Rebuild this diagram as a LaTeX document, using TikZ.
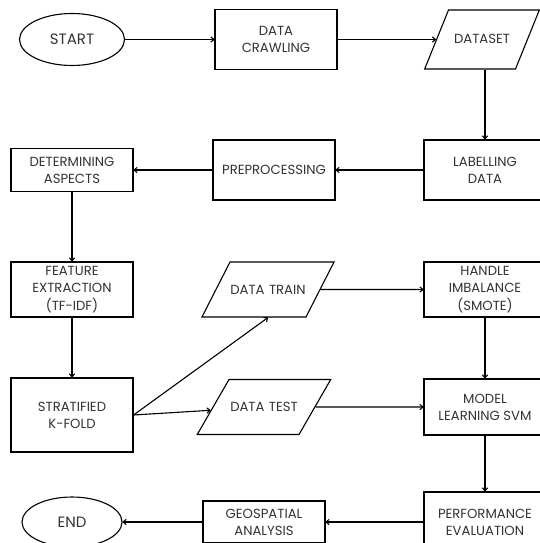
\documentclass[tikz,border=0pt]{standalone}
\usepackage{fontspec}
\setmainfont{Poppins}
\usetikzlibrary{shapes.geometric,arrows.meta}
\definecolor{inkgray}{HTML}{333333}
\begin{document}
\begin{tikzpicture}[x=1pt, y=-1pt, line width=1.1pt,
    font=\fontsize{13.2}{17.2}\selectfont,
    every node/.style={text=inkgray, align=center},
    procbox/.style={draw=black, rectangle, minimum width=122pt, inner sep=0pt},
    iobox/.style={draw=black, trapezium, trapezium left angle=63, trapezium right angle=117,
        text width=76pt, text height=9pt, text depth=0pt, inner xsep=0pt, inner ysep=23pt},
    termbox/.style={draw=black, ellipse, inner sep=0pt, font=\fontsize{15}{18}\selectfont},
    flow/.style={-{To[length=4pt,width=6pt]}}]
    \clip (0,0) rectangle (540,543);
    \fill[white] (0,0) rectangle (540,543);

    \def\xa{72};
    \def\xb{270};
    \def\xc{485};

    \def\ya{39.5};
    \def\yb{170};
    \def\yc{289.5};
    \def\yd{407};
    \def\ye{522};

    \node[termbox, minimum width=105pt, minimum height=52pt](start) at (\xa, \ya) {START};
    \node[procbox, minimum height=60pt](crawl) at (276, \ya) {DATA\\CRAWLING};
    \node[iobox, trapezium left angle=68, trapezium right angle=112, text width=67pt, inner ysep=25pt](dataset) at (482, \ya) {DATASET};

    \node[procbox, minimum height=60pt](label) at (\xc, \yb) {LABELLING\\DATA};
    \node[procbox, minimum height=60pt](prep) at (274, \yb) {PREPROCESSING};
    \node[procbox, minimum height=43pt](aspects) at (\xa, \yb) {DETERMINING\\ASPECTS};

    \node[procbox, minimum height=55pt](feature) at (\xa, \yc) {FEATURE\\EXTRACTION\\(TF-IDF)};
    \node[iobox](train) at (268, \yc) {DATA TRAIN};
    \node[procbox, minimum height=55pt](handle) at (\xc, \yc) {HANDLE\\IMBALANCE\\(SMOTE)};

    \node[procbox, minimum height=74pt](kfold) at (\xa, 415) {STRATIFIED\\K-FOLD};
    \node[iobox, trapezium left angle=60, trapezium right angle=120, text width=70pt](test) at (264, \yd) {DATA TEST};
    \node[procbox, minimum height=56pt](model) at (\xc, \yd) {MODEL\\LEARNING SVM};

    \node[procbox, minimum height=60pt](perf) at (\xc, \ye) {PERFORMANCE\\EVALUATION};
    \node[procbox, minimum height=42pt](geo) at (264, \ye) {GEOSPATIAL\\ANALYSIS};
    \node[termbox, minimum width=100pt, minimum height=50pt](end) at (\xa, \ye) {END};

    \draw[flow] (start) -- (crawl);
    \draw[flow] (crawl) -- (dataset);
    \draw[flow] (dataset.south -| label.north) -- (label);
    \draw[flow] (label) -- (prep);
    \draw[flow] (prep) -- (aspects);
    \draw[flow] (aspects) -- (feature);
    \draw[flow] (feature) -- (kfold);
    \draw[flow] (kfold.east) -- (train.south);
    \draw[flow] (kfold.east) -- (test);
    \draw[flow] (train) -- (train -| handle.west);
    \draw[flow] (test) -- (test -| model.west);
    \draw[flow] (handle) -- (model);
    \draw[flow] (model) -- (perf);
    \draw[flow] (perf) -- (geo);
    \draw[flow] (geo) -- (end);
\end{tikzpicture}
\end{document}
